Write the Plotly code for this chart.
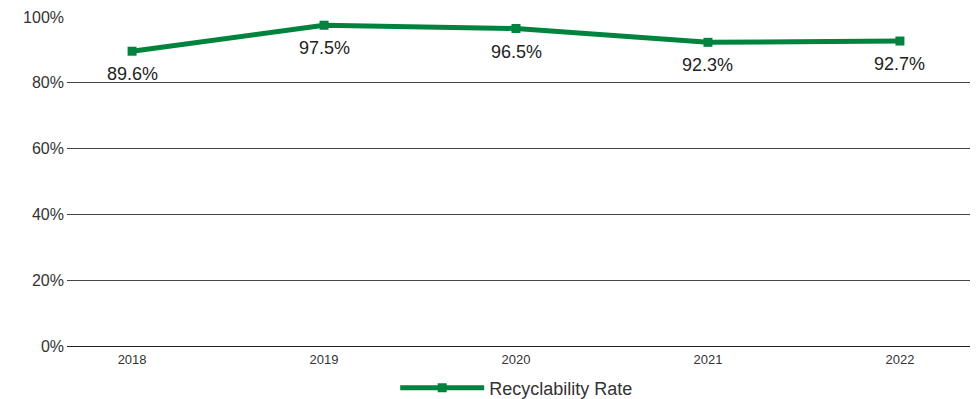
import plotly.graph_objects as go

years = [2018, 2019, 2020, 2021, 2022]
rates = [89.6, 97.5, 96.5, 92.3, 92.7]
labels = ["89.6%", "97.5%", "96.5%", "92.3%", "92.7%"]
yticks = [0, 20, 40, 60, 80, 100]
ytick_text = ["0%", "20%", "40%", "60%", "80%", "100%"]

green = "#00843D"
font = "Liberation Sans, Arial, sans-serif"

fig = go.Figure()
fig.add_trace(go.Scatter(
    x=years, y=rates, mode="lines+markers",
    name="Recyclability Rate",
    line=dict(color=green, width=5),
    marker=dict(symbol="square", size=9, color=green),
))
for x, y, t in zip(years, rates, labels):
    fig.add_annotation(x=x, y=y, text=t, showarrow=False, yshift=-23,
                       font=dict(size=18, color="#222222", family=font))

fig.update_layout(
    width=978, height=399,
    margin=dict(l=67, r=8, t=17, b=53, autoexpand=False),
    paper_bgcolor="white", plot_bgcolor="white",
    font=dict(family=font, color="#333333"),
    showlegend=True,
    legend=dict(orientation="h", x=0.498, xanchor="center", y=-0.128, yanchor="middle",
                itemwidth=84,
                font=dict(size=18, color="#333333", family=font)),
)
fig.update_xaxes(
    range=[2017.661, 2022.365], tickmode="array", tickvals=years,
    ticktext=[str(y) for y in years], showgrid=False, zeroline=False,
    showline=False, tickfont=dict(size=13, color="#333333"), ticks="",
    ticklabelstandoff=4,
)
fig.update_yaxes(
    range=[0, 100], tickmode="array", tickvals=yticks, ticktext=ytick_text,
    showgrid=True, gridcolor="#444444", gridwidth=1,
    zeroline=True, zerolinecolor="#222222", zerolinewidth=1,
    tickfont=dict(size=16, color="#333333"), ticks="", ticklabelstandoff=2,
)

fig.write_html("out.html")
